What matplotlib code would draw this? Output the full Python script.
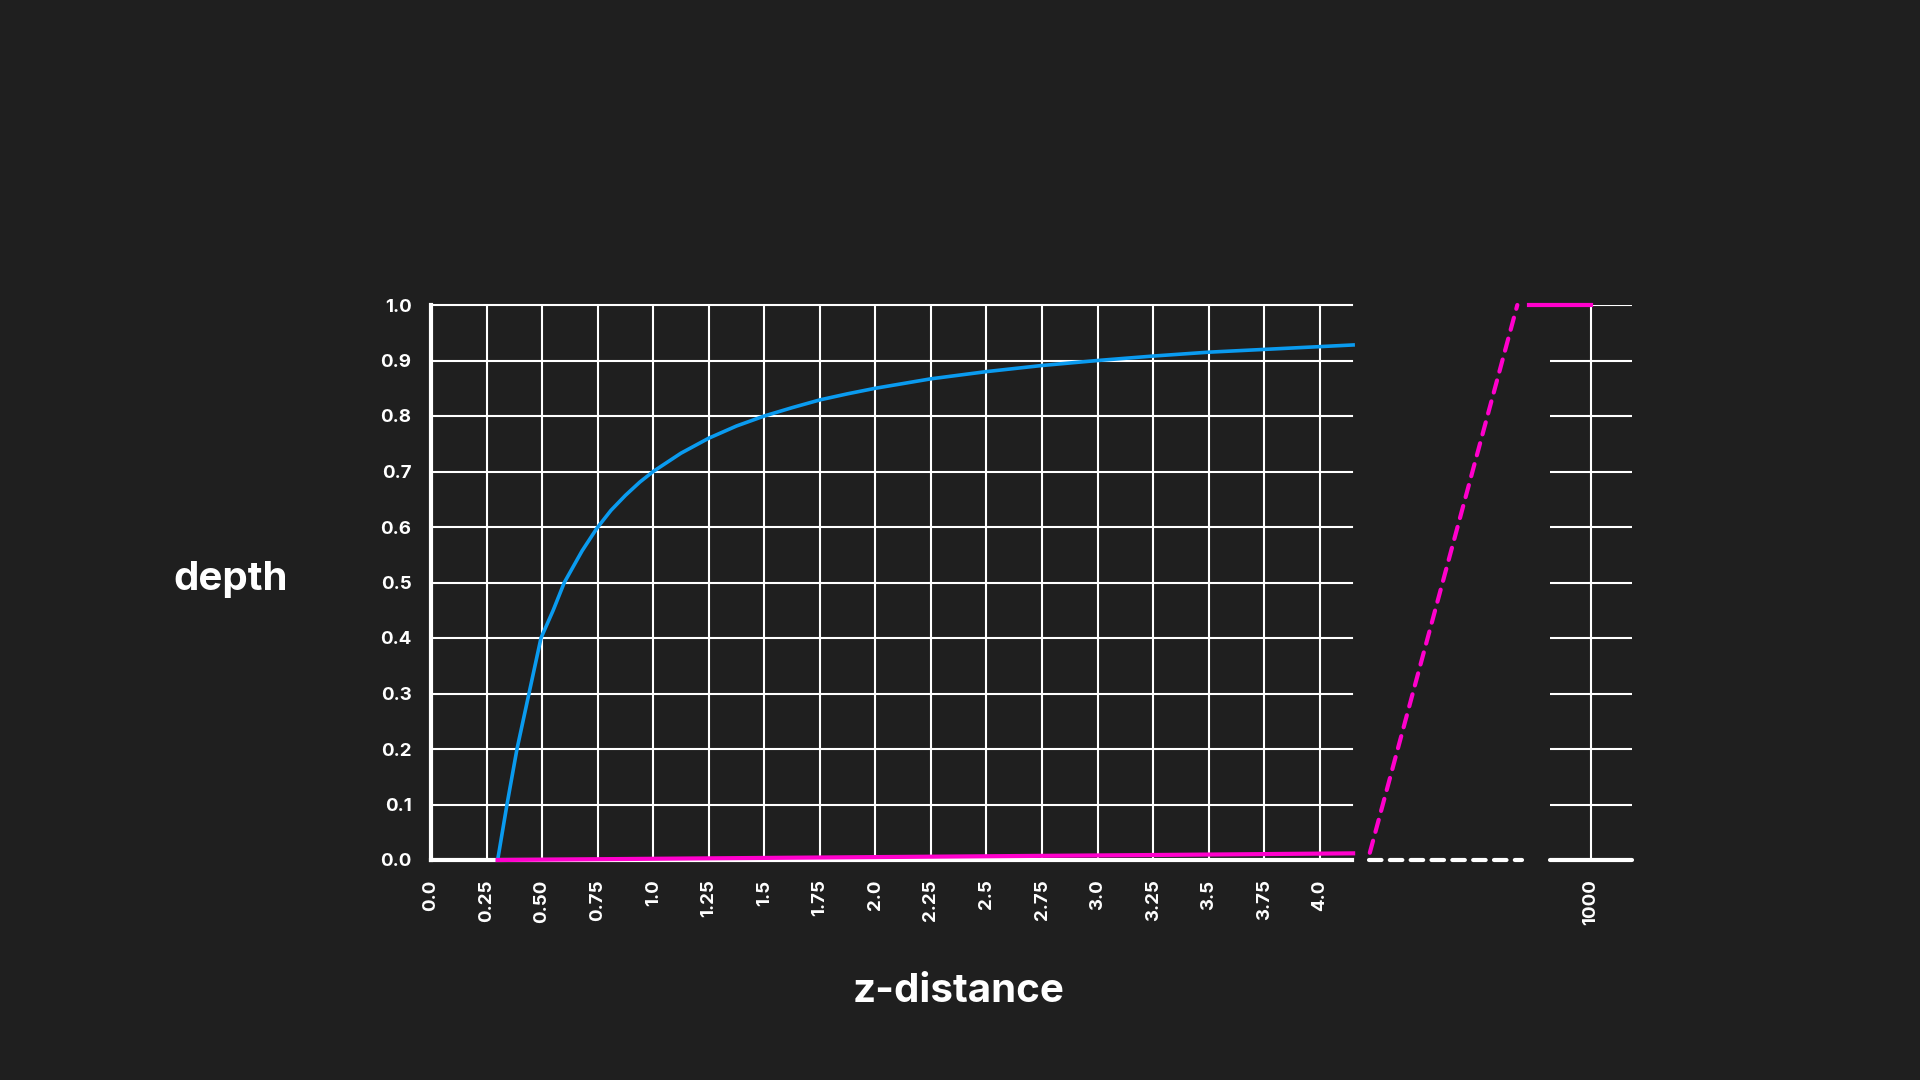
import matplotlib.pyplot as plt

BG = '#1f1f1f'
WHITE = '#ffffff'
BLUE = '#0a9bf0'
PINK = '#ff00cc'

# data
z_ticks = [0.0, 0.25, 0.5, 0.75, 1.0, 1.25, 1.5, 1.75, 2.0, 2.25, 2.5, 2.75, 3.0, 3.25, 3.5, 3.75, 4.0]
z_tick_labels = ['0.0', '0.25', '0.50', '0.75', '1.0', '1.25', '1.5', '1.75', '2.0',
                 '2.25', '2.5', '2.75', '3.0', '3.25', '3.5', '3.75', '4.0']
depth_ticks = [0.0, 0.1, 0.2, 0.3, 0.4, 0.5, 0.6, 0.7, 0.8, 0.9, 1.0]

blue_z = [0.3, 0.342, 0.387, 0.441, 0.495, 0.55, 0.6, 0.68, 0.747, 0.81, 0.875, 0.94, 1.0,
          1.125, 1.25, 1.375, 1.5, 1.625, 1.75, 1.875, 2.0, 2.25, 2.5, 2.75, 3.0, 3.25,
          3.5, 3.75, 4.0, 4.15]
blue_depth = [0.0, 0.1, 0.2, 0.3, 0.4, 0.45, 0.50, 0.557, 0.598, 0.63, 0.657, 0.681, 0.70,
              0.733, 0.76, 0.782, 0.80, 0.815, 0.829, 0.84, 0.85, 0.867, 0.88, 0.891,
              0.90, 0.908, 0.915, 0.92, 0.925, 0.928]

pink_z = [0.3, 1.25, 2.25, 3.25, 4.15]
pink_depth = [0.0, 0.003, 0.006, 0.009, 0.012]

far_z = [992.4, 1000.0]
far_depth = [1.0, 1.0]

plt.rcParams['font.family'] = ['Inter', 'DejaVu Sans']
plt.rcParams['font.weight'] = 'bold'

fig = plt.figure(figsize=(19.2, 10.8), dpi=100, facecolor=BG)

# main panel
ax = fig.add_axes([431 / 1920, 1 - 860 / 1080, (1352 - 431) / 1920, 555 / 1080], facecolor=BG)
ax.set_xlim(0, 4.145)
ax.set_ylim(0, 1.0)
for x in z_ticks[1:]:
    ax.axvline(x, color=WHITE, lw=1.5, zorder=1)
for y in depth_ticks[1:]:
    ax.axhline(y, color=WHITE, lw=1.5, zorder=1, clip_on=False)
for s in ['top', 'right']:
    ax.spines[s].set_visible(False)
for s in ['left', 'bottom']:
    ax.spines[s].set_color(WHITE)
    ax.spines[s].set_linewidth(3)
    ax.spines[s].set_zorder(2)
ax.set_xticks(z_ticks)
ax.set_xticklabels(z_tick_labels, rotation=90)
ax.set_yticks(depth_ticks)
ax.set_yticklabels([f'{v:.1f}' for v in depth_ticks])
ax.tick_params(length=0, pad=14, labelcolor=WHITE, labelsize=13.5)
ax.plot(blue_z, blue_depth, color=BLUE, lw=2.6, zorder=3, clip_on=False,
        solid_joinstyle='round')
ax.plot(pink_z, pink_depth, color=PINK, lw=3, zorder=4, clip_on=False)

# gap between the near range and the far plane
mid = fig.add_axes([1352 / 1920, 1 - 860 / 1080, (1550 - 1352) / 1920, 555 / 1080])
mid.set_xlim(0, 1)
mid.set_ylim(0, 1)
mid.axis('off')
mid.plot([0.085, 0.86], [0, 0], color=WHITE, lw=3, ls=(0, (3, 2)), dash_capstyle='round', clip_on=False)
mid.plot([0.09, 0.835], [0.013, 1.0], color=PINK, lw=3, ls=(0, (3, 2.2)), dash_capstyle='round', clip_on=False)

# far plane panel
axr = fig.add_axes([1550 / 1920, 1 - 860 / 1080, (1632 - 1550) / 1920, 555 / 1080], facecolor=BG)
axr.set_xlim(995, 1005)
axr.set_ylim(0, 1.0)
for y in depth_ticks[1:]:
    axr.axhline(y, color=WHITE, lw=1.5, zorder=1)
axr.axvline(1000, color=WHITE, lw=1.5, zorder=1)
for s in ['top', 'right', 'left']:
    axr.spines[s].set_visible(False)
axr.spines['bottom'].set_color(WHITE)
axr.spines['bottom'].set_linewidth(3)
axr.spines['bottom'].set_capstyle('round')
axr.set_xticks([1000])
axr.set_xticklabels(['1000'], rotation=90)
axr.set_yticks([])
axr.tick_params(length=0, pad=14, labelcolor=WHITE, labelsize=13.5)
axr.plot(far_z, far_depth, color=PINK, lw=3, zorder=4, clip_on=False)

fig.text(231 / 1920, 1 - 580 / 1080, 'depth', color=WHITE, fontsize=29, fontweight='bold',
         ha='center', va='center')
fig.text(959 / 1920, 1 - 991 / 1080, 'z-distance', color=WHITE, fontsize=29, fontweight='bold',
         ha='center', va='center')

fig.savefig('out.png', dpi=100, facecolor=BG)
